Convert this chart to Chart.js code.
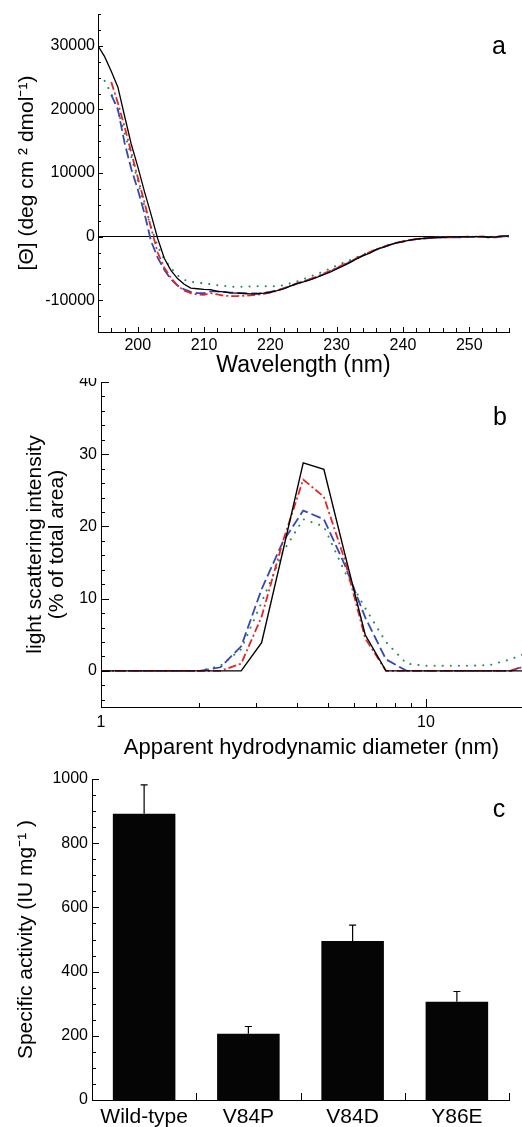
<!DOCTYPE html>
<html>
<head>
<meta charset="utf-8">
<script src="https://cdn.jsdelivr.net/npm/chart.js@4.4.1/dist/chart.umd.min.js"></script>
<style>
  body { margin: 0; background: #fff; }
  canvas { position: absolute; left: 0; }
</style>
</head>
<body>
<canvas id="cd" width="522" height="378" style="top:0"></canvas>
<canvas id="dls" width="522" height="382" style="top:378px"></canvas>
<canvas id="act" width="522" height="367" style="top:760px"></canvas>
<script>
// ---- panel a: CD spectra ----
var wavelengths = [194, 195, 196, 197, 198, 199, 200, 201, 202, 203,
  204, 205, 206, 207, 208, 209, 210, 211, 212, 213,
  214, 215, 216, 217, 218, 219, 220, 221, 222, 223,
  224, 225, 226, 227, 228, 229, 230, 231, 232, 233,
  234, 235, 236, 237, 238, 239, 240, 241, 242, 243,
  244, 245, 246, 247, 248, 249, 250, 251, 252, 253,
  254, 255, 256];
var cdBlack = [30000, 28300, 26000, 23500, 19000, 14600, 11000, 7100, 3500, -300,
  -3400, -5300, -6600, -7500, -8100, -8200, -8300, -8350, -8600, -8700,
  -8850, -8900, -8950, -9000, -9000, -8900, -8750, -8500, -8200, -7800,
  -7400, -7100, -6800, -6400, -6000, -5600, -5100, -4600, -4100, -3500,
  -3000, -2600, -2000, -1700, -1300, -1000, -800, -550, -400, -300,
  -200, -150, -100, -50, -50, 0, -50, 0, 0, -100,
  -50, 100, 100];
var cdRed = [null, null, 24300, 21000, 17300, 13300, 9300, 5400, 1400, -2500,
  -4900, -6500, -7700, -8500, -8900, -9100, -9150, -8900, -9100, -9300,
  -9350, -9350, -9300, -9250, -9150, -9000, -8800, -8500, -8150, -7750,
  -7350, -7050, -6700, -6300, -5850, -5400, -4900, -4400, -3950, -3400,
  -2900, -2450, -2000, -1650, -1300, -1000, -750, -550, -400, -300,
  -200, -150, -100, -100, -50, -50, 0, -50, 0, -50,
  -50, 50, 50];
var cdBlue = [null, null, 22300, 20000, 14800, 10700, 7400, 3700, -700, -3300,
  -5200, -6700, -7700, -8300, -8700, -8900, -8900, -8600, -8600, -8700,
  -8800, -8850, -8900, -8950, -8950, -8850, -8700, -8450, -8150, -7800,
  -7400, -7050, -6700, -6350, -5950, -5500, -5000, -4500, -4000, -3450,
  -2950, -2500, -2050, -1650, -1300, -1000, -800, -600, -400, -300,
  -250, -150, -100, -150, -100, -100, -50, -50, 0, -150,
  -100, 0, 50];
var cdGreen = [null, 24500, 22500, 19800, 16300, 12700, 8800, 4800, 1500, -1500,
  -3600, -4900, -6100, -6800, -7100, -7250, -7350, -7500, -7650, -7750,
  -7850, -7900, -7900, -7850, -7820, -7820, -7820, -7800, -7650, -7350,
  -7050, -6700, -6300, -5900, -5500, -5000, -4550, -4100, -3700, -3250,
  -2800, -2400, -2000, -1600, -1250, -950, -750, -550, -400, -300,
  -200, -150, -100, -100, -50, -50, 0, 0, 0, -50,
  0, 50, 50];
var cdXTicks = [200, 210, 220, 230, 240, 250];
var cdYTicks = [-10000, 0, 10000, 20000, 30000];

// ---- panel b: light scattering ----
var diameters = [1, 1.74, 2.01, 2.33, 2.70, 3.12, 3.62, 4.19, 4.85, 5.61, 6.50, 7.53, 8.72, 10.1, 11.7, 13.5, 15.7, 18.2, 21.0];
var dlsBlack = [0, 0, 0, 0, 0, 3.9, 16.4, 28.8, 27.9, 16.4, 5.0, 0, 0, 0, 0, 0, 0, 0, 0];
var dlsRed = [0, 0, 0, 0, 1.0, 7.5, 17.8, 26.5, 24.1, 15.5, 4.5, 0, 0, 0, 0, 0, 0, 0, 0.9];
var dlsBlue = [0, 0, 0, 0.5, 3.4, 11.3, 17.8, 22.2, 21.0, 14.8, 7.4, 1.6, 0, 0, 0, 0, 0, 0, 1.0];
var dlsGreen = [0, 0, 0, 0.7, 3.0, 9.5, 16.4, 21.0, 20.0, 13.8, 8.7, 4.0, 1.0, 0.7, 0.7, 0.7, 0.8, 1.6, 2.7];
var dlsXTicks = [1, 10];
var dlsYTicks = [0, 10, 20, 30, 40];

// ---- panel c: specific activity ----
var mutants = ['Wild-type', 'V84P', 'V84D', 'Y86E'];
var activity = [892, 206, 495, 306];
var activityErr = [90, 23, 50, 32];
var actYTicks = [0, 200, 400, 600, 800, 1000];

var FONT = '"Liberation Sans", Arial, Helvetica, sans-serif';
Chart.defaults.font.family = FONT;
Chart.defaults.color = '#000';

var RED = 'rgb(226, 38, 38)', BLUE = 'rgb(52, 72, 182)', GREEN = 'rgb(36, 140, 78)';
var dashDot = [8, 3, 2, 3], longDash = [10, 4], dots = [0.1, 8];

function series(xs, ys, color, dash, width) {
    return {
        data: xs.map(function (x, i) { return { x: x, y: ys[i] }; }).filter(function (p) { return p.y !== null; }),
        borderColor: color,
        borderWidth: width,
        borderDash: dash,
        borderCapStyle: dash === dots ? 'round' : 'butt',
        pointRadius: 0,
        fill: false,
        tension: 0
    };
}

function minorSteps(from, to, step, skip) {
    var out = [];
    for (var v = from; v <= to + 1e-9; v += step) {
        if (Math.abs(v / skip - Math.round(v / skip)) > 1e-6) out.push(v);
    }
    return out;
}

function setTicks(list) {
    return function (scale) { scale.ticks = list.map(function (v) { return { value: v }; }); };
}

// fixed box sizes, no extra room for overhanging labels
function fixWidth(w) {
    return function (s) { s.width = w; s.paddingTop = 0; s.paddingBottom = 0; };
}
function fixHeight(h) {
    return function (s) { s.height = h; s.paddingLeft = 0; s.paddingRight = 0; };
}

// tick marks drawn inside the plot, like the original
var innerTicks = {
    id: 'innerTicks',
    afterDraw: function (chart, args, opts) {
        var ctx = chart.ctx, area = chart.chartArea;
        ctx.save();
        ctx.strokeStyle = '#000';
        ctx.lineWidth = 1;
        ['x', 'y'].forEach(function (id) {
            var o = opts[id];
            if (!o) return;
            var scale = chart.scales[id];
            var marks = o.major.map(function (v) { return [v, o.majorLen]; })
                .concat(o.minor.map(function (v) { return [v, o.minorLen]; }));
            marks.forEach(function (m) {
                var p = scale.getPixelForValue(m[0]);
                if (!isFinite(p)) return;
                p = Math.round(p) + 0.5;
                ctx.beginPath();
                if (id === 'x') {
                    if (p < area.left - 1 || p > area.right + 1) return;
                    ctx.moveTo(p, area.bottom);
                    ctx.lineTo(p, area.bottom - m[1]);
                } else {
                    if (p < area.top - 1 || p > area.bottom + 1) return;
                    ctx.moveTo(area.left, p);
                    ctx.lineTo(area.left + m[1], p);
                }
                ctx.stroke();
            });
        });
        ctx.restore();
    }
};

var panelLabel = {
    id: 'panelLabel',
    afterDraw: function (chart, args, opts) {
        var ctx = chart.ctx;
        ctx.save();
        ctx.font = '25px ' + FONT;
        ctx.fillStyle = '#000';
        ctx.textAlign = 'center';
        ctx.textBaseline = 'alphabetic';
        ctx.fillText(opts.text, opts.x, opts.y);
        ctx.restore();
    }
};

var errorBars = {
    id: 'errorBars',
    afterDatasetsDraw: function (chart) {
        var meta = chart.getDatasetMeta(0), y = chart.scales.y, ctx = chart.ctx;
        ctx.save();
        ctx.strokeStyle = '#000';
        ctx.lineWidth = 1.2;
        meta.data.forEach(function (bar, i) {
            var top = y.getPixelForValue(activity[i] + activityErr[i]);
            ctx.beginPath();
            ctx.moveTo(bar.x, bar.y);
            ctx.lineTo(bar.x, top);
            ctx.moveTo(bar.x - 3.5, top);
            ctx.lineTo(bar.x + 3.5, top);
            ctx.stroke();
        });
        ctx.restore();
    }
};

var noPlugins = { legend: { display: false }, tooltip: { enabled: false } };
var border = { display: true, color: '#000', width: 1 };
var tickFont = { size: 16 };

// panel a
new Chart(document.getElementById('cd'), {
    type: 'line',
    data: {
        datasets: [
            series(wavelengths, cdBlack, '#000', [], 1.3),
            series(wavelengths, cdRed, RED, dashDot, 1.8),
            series(wavelengths, cdBlue, BLUE, longDash, 1.8),
            series(wavelengths, cdGreen, GREEN, dots, 2)
        ]
    },
    options: {
        responsive: false, animation: false, devicePixelRatio: 1,
        layout: { padding: { left: 0, top: 14, right: 13, bottom: 0 } },
        plugins: Object.assign({}, noPlugins, {
            innerTicks: {
                x: { major: cdXTicks, minor: minorSteps(194, 256, 2, 10), majorLen: 5, minorLen: 4 },
                y: { major: cdYTicks, minor: minorSteps(-15000, 35000, 2500, 10000), majorLen: 5, minorLen: 3 }
            },
            panelLabel: { text: 'a', x: 499, y: 54 }
        }),
        scales: {
            x: {
                type: 'linear', min: 194, max: 256,
                afterBuildTicks: setTicks(cdXTicks),
                afterFit: fixHeight(46),
                grid: { display: false, drawTicks: false },
                border: border,
                ticks: { font: tickFont, padding: 4, maxRotation: 0, callback: function (v) { return String(v); } },
                title: { display: true, text: 'Wavelength (nm)', font: { size: 23, lineHeight: 1.1 }, padding: 0 }
            },
            y: {
                min: -15000, max: 35000,
                afterBuildTicks: setTicks(cdYTicks),
                afterFit: fixWidth(98),
                grid: {
                    drawTicks: false, lineWidth: 1,
                    color: function (c) { return c.tick && c.tick.value === 0 ? '#000' : 'rgba(0,0,0,0)'; }
                },
                border: border,
                ticks: { font: tickFont, padding: 3, callback: function (v) { return String(v); } },
                title: { display: true, text: '[Θ] (deg cm ² dmol⁻¹)', font: { size: 21 }, padding: { top: 15, bottom: 0 } }
            }
        }
    },
    plugins: [innerTicks, panelLabel]
});

// panel b
new Chart(document.getElementById('dls'), {
    type: 'line',
    data: {
        datasets: [
            series(diameters, dlsBlack, '#000', [], 1.4),
            series(diameters, dlsRed, RED, dashDot, 1.8),
            series(diameters, dlsBlue, BLUE, longDash, 1.8),
            series(diameters, dlsGreen, GREEN, dots, 2)
        ]
    },
    options: {
        responsive: false, animation: false, devicePixelRatio: 1,
        layout: { padding: { left: 0, top: 4, right: 0, bottom: 0 } },
        plugins: Object.assign({}, noPlugins, {
            innerTicks: {
                x: { major: dlsXTicks, minor: [2, 3, 4, 5, 6, 7, 8, 9], majorLen: 8, minorLen: 4 },
                y: { major: dlsYTicks, minor: minorSteps(-4, 38, 2, 10), majorLen: 8, minorLen: 4 }
            },
            panelLabel: { text: 'b', x: 500, y: 47 }
        }),
        scales: {
            x: {
                type: 'logarithmic', min: 1, max: 19.74,
                afterBuildTicks: setTicks(dlsXTicks),
                afterFit: fixHeight(53),
                grid: { display: false, drawTicks: false },
                border: border,
                ticks: { font: tickFont, padding: 6, maxRotation: 0, autoSkip: false, callback: function (v) { return String(v); } },
                title: { display: true, text: 'Apparent hydrodynamic diameter (nm)', font: { size: 22, lineHeight: 1.1 }, padding: 0 }
            },
            y: {
                min: -5, max: 40,
                afterBuildTicks: setTicks(dlsYTicks),
                afterFit: fixWidth(101),
                grid: { display: false, drawTicks: false },
                border: border,
                ticks: { font: tickFont, padding: 4, callback: function (v) { return String(v); } },
                title: {
                    display: true,
                    text: ['light scattering intensity', '(% of total area)'],
                    font: { size: 21, lineHeight: 1.05 },
                    padding: { top: 24, bottom: 0 }
                }
            }
        }
    },
    plugins: [innerTicks, panelLabel]
});

// panel c
new Chart(document.getElementById('act'), {
    type: 'bar',
    data: {
        labels: mutants,
        datasets: [{
            data: activity,
            backgroundColor: '#050505',
            borderWidth: 0,
            barPercentage: 0.6,
            categoryPercentage: 1.0
        }]
    },
    options: {
        responsive: false, animation: false, devicePixelRatio: 1,
        layout: { padding: { left: 0, top: 19, right: 13, bottom: 0 } },
        plugins: Object.assign({}, noPlugins, {
            innerTicks: {
                x: { major: [0.5, 1.5, 2.5, 3.5], minor: [], majorLen: 7, minorLen: 0 },
                y: { major: actYTicks, minor: minorSteps(50, 950, 50, 200), majorLen: 7, minorLen: 4 }
            },
            panelLabel: { text: 'c', x: 499, y: 57 }
        }),
        scales: {
            x: {
                afterFit: fixHeight(27),
                grid: { display: false, drawTicks: false },
                border: border,
                ticks: { font: { size: 21 }, padding: 5, maxRotation: 0, autoSkip: false }
            },
            y: {
                min: 0, max: 1000,
                afterBuildTicks: setTicks(actYTicks),
                afterFit: fixWidth(92),
                grid: { display: false, drawTicks: false },
                border: border,
                ticks: { font: tickFont, padding: 4, callback: function (v) { return String(v); } },
                title: { display: true, text: 'Specific activity (IU mg⁻¹ )', font: { size: 21 }, padding: { top: 14, bottom: 0 } }
            }
        }
    },
    plugins: [innerTicks, panelLabel, errorBars]
});
</script>
</body>
</html>
